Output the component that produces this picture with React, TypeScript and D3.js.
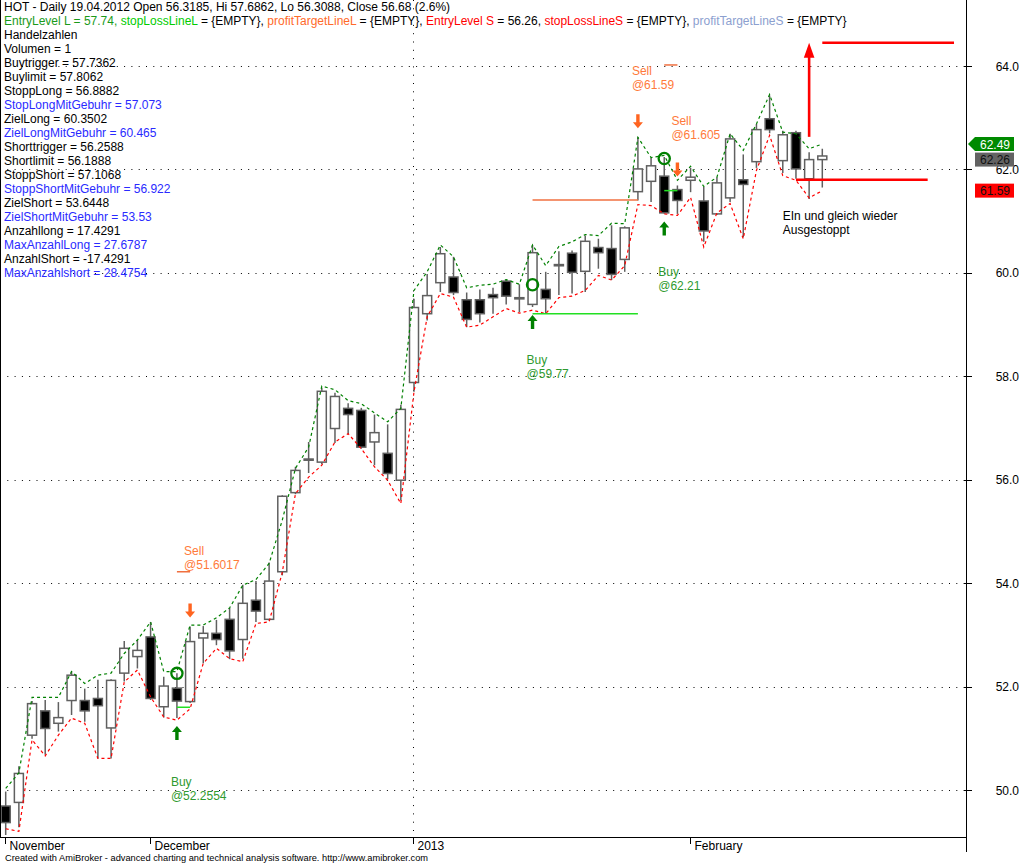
import React from "react";
import * as d3 from "d3";

// OHLC per daily bar (Nov 2012 - Feb 2013)
const OPEN = [49.69, 49.76, 51.06, 51.53, 51.29, 51.73, 51.73, 51.77, 51.2, 52.26,
  52.58, 52.96, 51.61, 51.97, 51.71, 52.94, 53.03, 53.3, 52.91, 53.67,
  53.3, 54.22, 55.75, 56.4, 56.34, 56.99, 57.38, 57.34, 56.73, 56.51,
  55.99, 57.88, 59.21, 59.81, 59.92, 59.48, 59.48, 59.58, 59.84, 59.52,
  59.39, 59.68, 60.14, 60.38, 60.03, 60.49, 60.47, 60.26, 61.57, 61.77,
  61.87, 61.61, 61.79, 61.39, 61.14, 61.45, 61.8, 62.15, 62.98, 62.17,
  62.71, 61.82, 62.19];
const HIGH = [49.97, 50.46, 51.72, 51.74, 51.7, 52.29, 51.96, 52.13, 52.14, 52.88,
  52.9, 53.25, 52.19, 52.26, 53.16, 53.17, 53.29, 53.52, 53.97, 54.04,
  54.4, 55.7, 56.25, 56.73, 57.78, 57.68, 57.48, 57.39, 57.26, 57.07,
  57.45, 59.5, 59.98, 60.5, 60.31, 59.62, 59.68, 59.71, 59.87, 59.78,
  60.54, 60.02, 60.42, 60.43, 60.72, 60.66, 60.92, 60.9, 62.62, 62.23,
  62.24, 61.69, 62.03, 61.66, 61.85, 62.69, 62.29, 62.88, 63.43, 62.75,
  62.75, 62.33, 62.4];
const LOW = [49.13, 49.28, 50.99, 50.68, 51.13, 51.45, 51.32, 50.61, 50.61, 52.1,
  52.35, 51.74, 51.4, 51.39, 51.68, 52.45, 52.8, 52.53, 52.54, 53.25,
  53.28, 54.15, 55.72, 56.13, 56.3, 56.71, 56.88, 56.6, 56.28, 56.01,
  55.6, 57.7, 59.08, 59.63, 59.57, 58.95, 59.04, 59.21, 59.39, 59.24,
  59.34, 59.21, 59.57, 59.6, 59.63, 60.08, 59.86, 60.02, 61.4, 61.37,
  61.15, 61.14, 61.56, 60.6, 61.12, 61.37, 60.69, 62.03, 62.7, 61.93,
  61.82, 61.43, 61.65];
const CLOSE = [49.37, 50.32, 51.67, 51.19, 51.4, 52.22, 51.53, 51.63, 52.12, 52.74,
  52.7, 51.77, 52.01, 51.72, 52.87, 53.03, 52.91, 52.69, 53.61, 53.46,
  54.04, 55.68, 56.18, 56.38, 57.71, 57.61, 57.26, 56.63, 56.91, 56.12,
  57.36, 59.33, 59.56, 60.37, 59.62, 59.1, 59.21, 59.52, 59.55, 59.5,
  60.39, 59.5, 60.16, 60.01, 60.61, 60.39, 59.97, 60.87, 62.01, 62.07,
  61.16, 61.4, 61.85, 60.81, 61.74, 62.59, 61.71, 62.77, 62.77, 62.67,
  62.01, 62.19, 62.26];

// upper (green dashed) and lower (red dashed) trigger bands
const UPPER = [50.03, 50.33, 51.79, 51.79, 51.79, 52.29, 52.06, 52.22, 52.26, 52.64,
  52.9, 53.25, 52.29, 52.29, 53.19, 53.19, 53.33, 53.52, 53.96, 54.07,
  54.38, 55.22, 56.22, 56.63, 57.81, 57.74, 57.53, 57.47, 57.29, 57.12,
  57.38, 59.66, 60.02, 60.54, 60.31, 59.71, 59.76, 59.78, 59.87, 59.78,
  60.54, 60.14, 60.51, 60.6, 60.74, 60.72, 60.96, 60.95, 62.62, 62.23,
  62.27, 61.79, 62.06, 61.67, 61.85, 62.69, 62.37, 62.88, 63.45, 62.72,
  62.69, 62.4, 62.49];
const LOWER = [49.25, 49.2, 50.97, 50.66, 51.06, 51.39, 51.29, 50.61, 50.61, 52.09,
  52.32, 51.8, 51.41, 51.35, 51.57, 52.45, 52.74, 52.54, 52.48, 53.22,
  53.25, 54.21, 55.73, 56.05, 56.28, 56.73, 56.89, 56.6, 56.25, 55.99,
  55.54, 57.7, 59.15, 59.6, 59.53, 58.95, 58.99, 59.15, 59.31, 59.22,
  59.28, 59.21, 59.52, 59.55, 59.66, 59.95, 59.86, 60.14, 61.32, 61.3,
  61.14, 61.11, 61.46, 60.5, 61.16, 61.34, 60.66, 61.98, 62.66, 61.88,
  61.79, 61.45, 61.59];

const Y_TICKS = [50, 52, 54, 56, 58, 60, 62, 64];
const MONTHS = [
  { label: "November", index: 0 },
  { label: "December", index: 11 },
  { label: "2013", index: 31 },
  { label: "February", index: 52 },
];
const YEAR_LINE_INDEX = 31;

// trade signals: bar index, price, label baseline level
const BUYS = [
  { index: 13, price: 52.2554, label: "@52.2554", textLevel: 50.08 },
  { index: 40, price: 59.77, label: "@59.77", textLevel: 58.24 },
  { index: 50, price: 62.21, label: "@62.21", textLevel: 59.93 },
];
const SELLS = [
  { index: 14, label: "@51.6017", textLevel: 54.54 },
  { index: 48, label: "@61.59", textLevel: 63.83 },
  { index: 51, label: "@61.605", textLevel: 62.86 },
];
const STOP_LINES = [
  { from: 13, to: 14, value: 51.6 },
  { from: 40, to: 48, value: 59.21 },
  { from: 50, to: 51, value: 61.59 },
];
const TARGET_LINES = [
  { from: 13, to: 14, value: 54.22 },
  { from: 40, to: 48, value: 61.41 },
  { from: 50, to: 51, value: 64.02 },
];

// hand drawn red notes
const RED_HLINES = [
  { from: 60, to: 70, value: 61.8 },
  { from: 62, to: 72, value: 64.45 },
];
const RED_ARROW = { index: 61, from: 62.63, to: 64.45 };
const NOTE = { index: 59, level: 61.03, lines: ["EIn und gleich wieder", "Ausgestoppt"] };

const LAST_LABELS = { upper: 62.49, close: 62.26, lower: 61.59 };

const C = {
  black: "#000000",
  green: "#1a9a1a",
  lime: "#00cc00",
  orange: "#ff6a2a",
  red: "#ff0000",
  steel: "#8ca0cf",
  blue: "#2a2aff",
};

const LEGEND: [string, string][][] = [
  [["HOT - Daily 19.04.2012 Open 56.3185, Hi 57.6862, Lo 56.3088, Close 56.68 (2.6%)", C.black]],
  [
    ["EntryLevel L = 57.74, ", C.green],
    ["stopLossLineL", C.lime], [" = {EMPTY}, ", C.black],
    ["profitTargetLineL", C.orange], [" = {EMPTY}, ", C.black],
    ["EntryLevel S", C.red], [" = 56.26, ", C.black],
    ["stopLossLineS", C.red], [" = {EMPTY}, ", C.black],
    ["profitTargetLineS", C.steel], [" = {EMPTY}", C.black],
  ],
  [["Handelzahlen", C.black]],
  [["Volumen = 1", C.black]],
  [["Buytrigger = 57.7362", C.black]],
  [["Buylimit = 57.8062", C.black]],
  [["StoppLong = 56.8882", C.black]],
  [["StopLongMitGebuhr = 57.073", C.blue]],
  [["ZielLong = 60.3502", C.black]],
  [["ZielLongMitGebuhr = 60.465", C.blue]],
  [["Shorttrigger = 56.2588", C.black]],
  [["Shortlimit = 56.1888", C.black]],
  [["StoppShort = 57.1068", C.black]],
  [["StoppShortMitGebuhr = 56.922", C.blue]],
  [["ZielShort = 53.6448", C.black]],
  [["ZielShortMitGebuhr = 53.53", C.blue]],
  [["Anzahllong = 17.4291", C.black]],
  [["MaxAnzahlLong = 27.6787", C.blue]],
  [["AnzahlShort = -17.4291", C.black]],
  [["MaxAnzahlshort = 28.4754", C.blue]],
];

const W = 1028;
const H = 865;
const PLOT_RIGHT = 967;
const PLOT_BOTTOM = 837;
const FONT = "'Liberation Sans', Arial, sans-serif";

const x = d3.scaleLinear().domain([0, OPEN.length - 1]).range([5.7, 822.3]);
const y = d3.scaleLinear().domain([50, 64]).range([790, 66]);

const bandLine = d3.line<number>().x((_, i) => x(i)).y((d) => y(d));

function upArrow(cx: number, tip: number) {
  return `M${cx},${tip} L${cx + 5},${tip + 6} L${cx + 1.7},${tip + 6} L${cx + 1.7},${tip + 14} L${cx - 1.7},${tip + 14} L${cx - 1.7},${tip + 6} L${cx - 5},${tip + 6} Z`;
}
function downArrow(cx: number, tip: number) {
  return `M${cx},${tip} L${cx + 5},${tip - 6} L${cx + 1.7},${tip - 6} L${cx + 1.7},${tip - 14} L${cx - 1.7},${tip - 14} L${cx - 1.7},${tip - 6} L${cx - 5},${tip - 6} Z`;
}

export default function App() {
  const candleW = 9;
  const greenY = y(LAST_LABELS.upper);
  const grayTop = Math.max(y(LAST_LABELS.close) - 7, greenY + 8.5);
  const redY = y(LAST_LABELS.lower);
  const ra = RED_ARROW;

  return (
    <div style={{ position: "fixed", left: 0, top: 0 }}>
      <svg width={W} height={H} style={{ display: "block", background: "#fff" }} fontFamily={FONT}>
        <defs>
          <clipPath id="plot">
            <rect x={0} y={0} width={PLOT_RIGHT} height={PLOT_BOTTOM} />
          </clipPath>
        </defs>
        <rect width={W} height={H} fill="#fff" />

        {/* grid */}
        {Y_TICKS.map((t) => (
          <line key={t} x1={0} x2={PLOT_RIGHT - 2} y1={Math.round(y(t)) + 0.5} y2={Math.round(y(t)) + 0.5}
            stroke="#000" strokeWidth={1} strokeDasharray="1 6.3" />
        ))}
        <line x1={Math.round(x(YEAR_LINE_INDEX)) - 0.5} x2={Math.round(x(YEAR_LINE_INDEX)) - 0.5} y1={0} y2={PLOT_BOTTOM}
          stroke="#000" strokeDasharray="1 7.3" />

        <g clipPath="url(#plot)">
          {/* candles */}
          {OPEN.map((o, i) => {
            const c = CLOSE[i];
            const cx = x(i);
            const top = y(Math.max(o, c));
            const bot = y(Math.min(o, c));
            return (
              <g key={i}>
                <line x1={cx} x2={cx} y1={y(HIGH[i])} y2={y(LOW[i])} stroke="#606060" strokeWidth={1.5} />
                <rect x={cx - candleW / 2} y={top} width={candleW} height={Math.max(bot - top, 1.2)}
                  fill={c >= o ? "#fff" : "#000"} stroke="#606060" strokeWidth={1.5} />
              </g>
            );
          })}

          {/* trigger bands */}
          <path d={bandLine(UPPER) ?? ""} fill="none" stroke="#008000" strokeWidth={1.2} strokeDasharray="3 3" />
          <path d={bandLine(LOWER) ?? ""} fill="none" stroke="#ff0000" strokeWidth={1.2} strokeDasharray="3 3" />

          {/* stop / target lines */}
          {STOP_LINES.map((l, i) => (
            <line key={`s${i}`} x1={x(l.from)} x2={x(l.to)} y1={y(l.value)} y2={y(l.value)} stroke="#22e022" strokeWidth={1.5} />
          ))}
          {TARGET_LINES.map((l, i) => (
            <line key={`t${i}`} x1={x(l.from)} x2={x(l.to)} y1={y(l.value)} y2={y(l.value)} stroke="#f07040" strokeWidth={1.5} />
          ))}

          {/* buy signals */}
          {BUYS.map((b) => {
            const cx = x(b.index);
            return (
              <g key={`b${b.index}`}>
                <circle cx={cx} cy={y(b.price)} r={5.6} fill="none" stroke="#008000" strokeWidth={2.3} />
                <path d={upArrow(cx, y(LOW[b.index]) + 8)} fill="#008000" />
                <text x={cx - 6} y={y(b.textLevel)} fontSize={12} fill="#2f9a2f">Buy</text>
                <text x={cx - 6} y={y(b.textLevel) + 14} fontSize={12} fill="#2f9a2f">{b.label}</text>
              </g>
            );
          })}

          {/* sell signals */}
          {SELLS.map((s) => {
            const cx = x(s.index);
            return (
              <g key={`x${s.index}`}>
                <path d={downArrow(cx, y(HIGH[s.index]) - 9)} fill="#ff6420" />
                <text x={cx - 6} y={y(s.textLevel)} fontSize={12} fill="#ff7a3a">Sell</text>
                <text x={cx - 6} y={y(s.textLevel) + 14} fontSize={12} fill="#ff7a3a">{s.label}</text>
              </g>
            );
          })}

          {/* red notes */}
          {RED_HLINES.map((l, i) => (
            <line key={`r${i}`} x1={x(l.from)} x2={x(l.to)} y1={y(l.value)} y2={y(l.value)} stroke="#ff0000" strokeWidth={2.4} />
          ))}
          <line x1={x(ra.index)} x2={x(ra.index)} y1={y(ra.from)} y2={y(ra.to) + 12} stroke="#ff0000" strokeWidth={2.6} />
          <path d={`M${x(ra.index)},${y(ra.to)} L${x(ra.index) + 5.3},${y(ra.to) + 15} L${x(ra.index) - 5.3},${y(ra.to) + 15} Z`} fill="#ff0000" />
          {NOTE.lines.map((t, i) => (
            <text key={t} x={x(NOTE.index)} y={y(NOTE.level) + i * 14} fontSize={12} fill="#000">{t}</text>
          ))}
        </g>

        {/* legend */}
        {LEGEND.map((line, i) => (
          <text key={i} x={4} y={11 + i * 14} fontSize={12} xmlSpace="preserve" style={{ whiteSpace: "pre" }}>
            {line.map(([t, col], j) => (
              <tspan key={j} fill={col}>{t}</tspan>
            ))}
          </text>
        ))}

        {/* right axis */}
        <line x1={PLOT_RIGHT - 0.5} x2={PLOT_RIGHT - 0.5} y1={0} y2={852} stroke="#000" strokeWidth={1} />
        {Y_TICKS.map((t) => (
          <g key={`yt${t}`}>
            <line x1={PLOT_RIGHT - 3} x2={PLOT_RIGHT + 5} y1={Math.round(y(t)) + 0.5} y2={Math.round(y(t)) + 0.5} stroke="#000" />
            <text x={1019} y={y(t) + 4.5} fontSize={12} textAnchor="end" fill="#000">{t.toFixed(1)}</text>
          </g>
        ))}

        {/* last value boxes */}
        <path d={`M${PLOT_RIGHT + 1},${greenY} L${PLOT_RIGHT + 8},${greenY - 7} L1014,${greenY - 7} L1014,${greenY + 7} L${PLOT_RIGHT + 8},${greenY + 7} Z`} fill="#008a00" />
        <text x={995} y={greenY + 4.5} fontSize={12} textAnchor="middle" fill="#fff">{LAST_LABELS.upper.toFixed(2)}</text>
        <rect x={975} y={grayTop} width={39} height={14} fill="#636363" />
        <text x={995} y={grayTop + 11.5} fontSize={12} textAnchor="middle" fill="#111">{LAST_LABELS.close.toFixed(2)}</text>
        <rect x={975} y={redY - 7} width={39} height={14} fill="#ff0000" />
        <text x={995} y={redY + 4.5} fontSize={12} textAnchor="middle" fill="#111">{LAST_LABELS.lower.toFixed(2)}</text>

        {/* bottom axis */}
        <line x1={0} x2={PLOT_RIGHT} y1={PLOT_BOTTOM + 0.5} y2={PLOT_BOTTOM + 0.5} stroke="#000" />
        {MONTHS.map((m) => {
          const mx = Math.round(x(m.index)) - 0.5;
          return (
            <g key={m.label}>
              <line x1={mx} x2={mx} y1={PLOT_BOTTOM} y2={PLOT_BOTTOM + 7} stroke="#000" />
              <text x={mx + 4} y={PLOT_BOTTOM + 12.5} fontSize={12} fill="#000">{m.label}</text>
            </g>
          );
        })}
        <line x1={0.5} x2={0.5} y1={0} y2={PLOT_BOTTOM} stroke="#000" />

        <text x={5} y={861} fontSize={9} fill="#000" textLength={423} lengthAdjust="spacingAndGlyphs">
          Created with AmiBroker - advanced charting and technical analysis software. http://www.amibroker.com
        </text>
      </svg>
    </div>
  );
}
